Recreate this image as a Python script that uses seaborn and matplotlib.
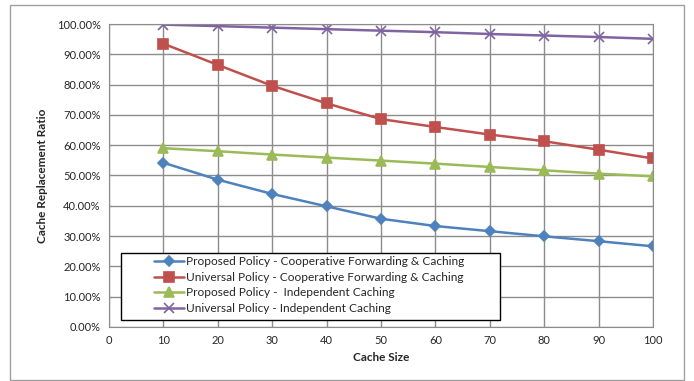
import pandas as pd
import matplotlib.pyplot as plt
import seaborn as sns
from matplotlib.ticker import PercentFormatter
from matplotlib.patches import Rectangle

# --- Data ---
cache_size = [10, 20, 30, 40, 50, 60, 70, 80, 90, 100]
proposed_coop = [54.2, 48.6, 43.9, 39.8, 35.7, 33.3, 31.6, 29.9, 28.3, 26.6]
universal_coop = [93.5, 86.5, 79.6, 73.8, 68.6, 66.0, 63.5, 61.3, 58.5, 55.6]
proposed_indep = [59.0, 58.0, 56.9, 55.9, 54.9, 53.9, 52.8, 51.7, 50.6, 49.7]
universal_indep = [99.8, 99.3, 98.8, 98.3, 97.8, 97.3, 96.7, 96.2, 95.7, 95.1]

series_names = [
    'Proposed Policy - Cooperative Forwarding & Caching',
    'Universal Policy - Cooperative Forwarding & Caching',
    'Proposed Policy -  Independent Caching',
    'Universal Policy - Independent Caching',
]
series_values = [proposed_coop, universal_coop, proposed_indep, universal_indep]

colors = ['#4F81BD', '#C0504D', '#9BBB59', '#8064A2']
markers = ['D', 's', '^', 'x']
msizes = [5.5, 7, 7, 7]

# --- Plot ---
sns.set_style('white')
plt.rcParams['font.family'] = ['Lato', 'DejaVu Sans']

fig = plt.figure(figsize=(6.94, 3.81), dpi=100)
ax = fig.add_axes([0.157, 0.142, 0.784, 0.795])

for name, vals, c, m, ms in zip(series_names, series_values, colors, markers, msizes):
    sns.lineplot(x=cache_size, y=vals, color=c, marker=m, markersize=ms,
                 markeredgecolor=c, markeredgewidth=1.2, linewidth=1.8,
                 label=name, ax=ax)

ax.set_xlim(0, 100)
ax.set_ylim(0, 100)
ax.set_xticks(range(0, 101, 10))
ax.set_yticks(range(0, 101, 10))
ax.yaxis.set_major_formatter(PercentFormatter(decimals=2))
ax.grid(True, color='#8c8c8c', linewidth=1)
ax.set_axisbelow(True)
for s in ax.spines.values():
    s.set_color('#8c8c8c')
ax.tick_params(labelsize=8, length=0, pad=6)
ax.set_xlabel('Cache Size', fontsize=8.5, fontweight='bold')
ax.set_ylabel('Cache Replacement Ratio', fontsize=8.5, fontweight='bold', labelpad=6)

# legend without its own frame, box drawn separately like the Excel one
leg = ax.legend(loc='upper left', bbox_to_anchor=(153 / 694, 1 - 255 / 381),
                bbox_transform=fig.transFigure,
                fontsize=8.6, frameon=False, handlelength=2.5,
                borderpad=0.1, borderaxespad=0, labelspacing=0.38, handletextpad=0.2)
leg.set_zorder(6)
ax.add_patch(Rectangle((121 / 694, 1 - 320 / 381), 379 / 694, 67 / 381,
                       transform=fig.transFigure, facecolor='white', clip_on=False,
                       edgecolor='black', linewidth=1, zorder=5))

fig.patches.append(Rectangle((10 / 694, 1 / 381), 674 / 694, 375 / 381, transform=fig.transFigure,
                             fill=False, edgecolor='#a0a0a0', linewidth=1))

plt.savefig('out.png', dpi=100)
